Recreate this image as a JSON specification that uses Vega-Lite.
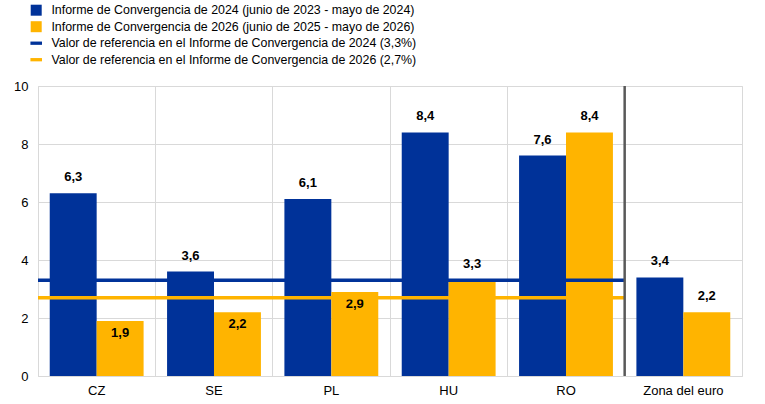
{
  "$schema": "https://vega.github.io/schema/vega-lite/v6.json",
  "width": 704,
  "height": 290,
  "autosize": "none",
  "padding": {"left": 38, "top": 86, "right": 23, "bottom": 28},
  "background": "white",
  "datasets": {
    "bars": [
      {"category": "CZ", "series": "Informe de Convergencia de 2024 (junio de 2023 - mayo de 2024)", "value": 6.3},
      {"category": "CZ", "series": "Informe de Convergencia de 2026 (junio de 2025 - mayo de 2026)", "value": 1.9},
      {"category": "SE", "series": "Informe de Convergencia de 2024 (junio de 2023 - mayo de 2024)", "value": 3.6},
      {"category": "SE", "series": "Informe de Convergencia de 2026 (junio de 2025 - mayo de 2026)", "value": 2.2},
      {"category": "PL", "series": "Informe de Convergencia de 2024 (junio de 2023 - mayo de 2024)", "value": 6.1},
      {"category": "PL", "series": "Informe de Convergencia de 2026 (junio de 2025 - mayo de 2026)", "value": 2.9},
      {"category": "HU", "series": "Informe de Convergencia de 2024 (junio de 2023 - mayo de 2024)", "value": 8.4},
      {"category": "HU", "series": "Informe de Convergencia de 2026 (junio de 2025 - mayo de 2026)", "value": 3.3},
      {"category": "RO", "series": "Informe de Convergencia de 2024 (junio de 2023 - mayo de 2024)", "value": 7.6},
      {"category": "RO", "series": "Informe de Convergencia de 2026 (junio de 2025 - mayo de 2026)", "value": 8.4},
      {"category": "Zona del euro", "series": "Informe de Convergencia de 2024 (junio de 2023 - mayo de 2024)", "value": 3.4},
      {"category": "Zona del euro", "series": "Informe de Convergencia de 2026 (junio de 2025 - mayo de 2026)", "value": 2.2}
    ],
    "refs": [
      {"series": "Valor de referencia en el Informe de Convergencia de 2024 (3,3%)", "value": 3.3},
      {"series": "Valor de referencia en el Informe de Convergencia de 2026 (2,7%)", "value": 2.7}
    ]
  },
  "encoding": {
    "x": {
      "field": "category",
      "type": "nominal",
      "sort": ["CZ", "SE", "PL", "HU", "RO", "Zona del euro"],
      "scale": {"paddingInner": 0, "paddingOuter": 0},
      "axis": {
        "title": null,
        "labelAngle": 0,
        "ticks": false,
        "domain": false,
        "grid": true,
        "bandPosition": 0,
        "gridColor": "#d9d9d9",
        "labelPadding": 8,
        "labelFontSize": 13,
        "labelColor": "#000000",
        "labelFont": "Liberation Sans"
      }
    },
    "y": {
      "field": "value",
      "type": "quantitative",
      "scale": {"domain": [0, 10], "nice": false},
      "axis": {
        "title": null,
        "values": [0, 2, 4, 6, 8, 10],
        "ticks": false,
        "domain": false,
        "gridColor": "#d9d9d9",
        "labelPadding": 10,
        "labelFontSize": 13,
        "labelColor": "#000000",
        "labelFont": "Liberation Sans"
      }
    }
  },
  "layer": [
    {
      "data": {"name": "bars"},
      "mark": {"type": "bar"},
      "encoding": {
        "xOffset": {
          "field": "series",
          "type": "nominal",
          "scale": {"paddingInner": 0, "paddingOuter": 0.25}
        },
        "color": {
          "field": "series",
          "type": "nominal",
          "scale": {
            "domain": [
              "Informe de Convergencia de 2024 (junio de 2023 - mayo de 2024)",
              "Informe de Convergencia de 2026 (junio de 2025 - mayo de 2026)",
              "Valor de referencia en el Informe de Convergencia de 2024 (3,3%)",
              "Valor de referencia en el Informe de Convergencia de 2026 (2,7%)"
            ],
            "range": ["#003299", "#ffb400", "#003299", "#ffb400"]
          },
          "legend": {
            "title": null,
            "orient": "none",
            "legendX": -8,
            "legendY": -82,
            "padding": 0,
            "labelFont": "Liberation Sans",
            "labelFontSize": 12.4,
            "labelColor": "#000000",
            "labelLimit": 0,
            "labelOffset": 9,
            "symbolSize": 121,
            "rowPadding": 3.5,
            "symbolType": "square",
            "encode": {
              "symbols": {
                "update": {
                  "shape": {"signal": "indexof(datum.value, 'Valor') === 0 ? 'M-1.05,-0.3H1.05V0.3H-1.05Z' : 'square'"},
                  "fill": {"scale": "color", "field": "value"},
                  "strokeWidth": {"value": 0},
                  "opacity": {"value": 1}
                }
              }
            }
          }
        }
      }
    },
    {
      "data": {"name": "bars"},
      "transform": [
        {"filter": "!(indexof(datum.series, '2026 (junio') > 0 && datum.category !== 'Zona del euro' && datum.value < 3)"}
      ],
      "mark": {"type": "text", "baseline": "bottom", "dy": -9, "fontWeight": "bold", "fontSize": 13, "font": "Liberation Sans", "color": "#000000"},
      "encoding": {
        "xOffset": {"field": "series", "type": "nominal", "scale": {"paddingInner": 0, "paddingOuter": 0.25}},
        "text": {"field": "value", "type": "quantitative", "format": ".1f"}
      }
    },
    {
      "data": {"name": "bars"},
      "transform": [
        {"filter": "indexof(datum.series, '2026 (junio') > 0 && datum.category !== 'Zona del euro' && datum.value < 3"}
      ],
      "mark": {"type": "text", "baseline": "top", "dy": 6, "fontWeight": "bold", "fontSize": 13, "font": "Liberation Sans", "color": "#000000"},
      "encoding": {
        "xOffset": {"field": "series", "type": "nominal", "scale": {"paddingInner": 0, "paddingOuter": 0.25}},
        "text": {"field": "value", "type": "quantitative", "format": ".1f"}
      }
    },
    {
      "data": {"name": "refs"},
      "mark": {"type": "rule", "strokeWidth": 3.5},
      "encoding": {
        "x": {"datum": "CZ", "bandPosition": 0},
        "x2": {"datum": "Zona del euro", "bandPosition": 0},
        "y": {"field": "value", "type": "quantitative"},
        "color": {"field": "series", "type": "nominal"}
      }
    },
    {
      "data": {"values": [{}]},
      "mark": {"type": "rule", "color": "#595959", "strokeWidth": 2.5},
      "encoding": {
        "x": {"datum": "Zona del euro", "bandPosition": 0},
        "y": null
      }
    },
    {
      "data": {"values": [{}]},
      "mark": {"type": "text", "text": "Pro memoria", "fontWeight": "bold", "fontSize": 13, "font": "Liberation Sans", "color": "#000000", "baseline": "middle", "dy": -18},
      "encoding": {
        "x": {"datum": "Zona del euro"},
        "y": {"datum": 10}
      }
    }
  ],
  "config": {
    "locale": {
      "number": {"decimal": ",", "thousands": ".", "grouping": [3], "currency": ["", " €"]}
    },
    "view": {"stroke": "#d9d9d9"}
  }
}
